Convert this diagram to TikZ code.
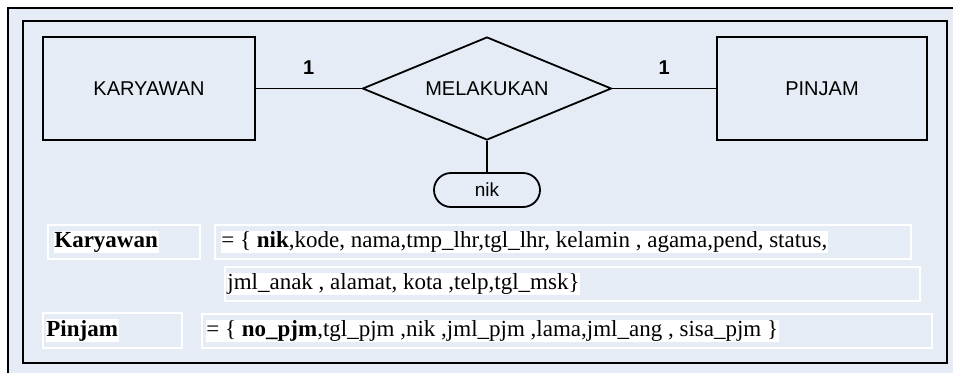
\documentclass[tikz,border=0pt]{standalone}
\usepackage{fontspec}
\setmainfont{Liberation Serif}
\newfontfamily\erfont{Liberation Sans}
\usetikzlibrary{shapes.geometric}

\definecolor{bgblue}{RGB}{229,236,246}

\tikzset{
  entity/.style={draw,line width=.9pt,minimum width=106pt,minimum height=51.5pt,
    font=\erfont\fontsize{10}{12}\selectfont},
  relship/.style={draw,diamond,line width=.9pt,inner sep=0pt,aspect=2.4,
    minimum width=124.5pt,minimum height=51.5pt,font=\erfont\fontsize{10}{12}\selectfont},
  attrib/.style={draw,line width=.9pt,rounded corners=8.5pt,minimum width=53pt,
    minimum height=17pt,font=\erfont\fontsize{9.5}{11}\selectfont},
  card/.style={font=\erfont\bfseries\fontsize{10}{12}\selectfont,above=3pt},
  rowbox/.style={draw=white,line width=1pt,fill=bgblue,minimum height=17pt},
  rowtxt/.style={anchor=west,fill=white,inner sep=.4pt,font=\fontsize{11.5}{13}\selectfont}
}

\begin{document}
\begin{tikzpicture}[x=.5pt,y=-.5pt,line width=.2mm]
  \useasboundingbox (0,0) rectangle (953,372);

  % frames
  \draw[line width=1pt,fill=bgblue] (8,8) rectangle (975,395);
  \draw[line width=1.3pt] (23,21) rectangle (947,363);

  % diagram
  \node[entity] (K) at (149,88.5) {KARYAWAN};
  \node[relship] (M) at (487,88.5) {MELAKUKAN};
  \node[entity,minimum width=105pt] (P) at (822,88.5) {PINJAM};
  \node[attrib] (N) at (487,190) {nik};

  \draw[line width=.9pt] (K) -- (M) node[card,midway] (c1) {1};
  \draw[line width=.9pt] (M) -- (P) node[card,midway] (c2) {1};
  \draw[line width=.9pt] (M.south) -- (N.north);

  % relasi tabel
  \node[rowbox,minimum width=76pt] (KL) at (124,242) {};
  \node[rowbox,minimum width=348pt] (KA) at (563,242) {};
  \node[rowbox,minimum width=347.5pt] (KB) at (572.5,284) {};
  \node[rowbox,minimum width=69.5pt,minimum height=17.5pt] (PL) at (112.5,330.5) {};
  \node[rowbox,minimum width=365pt] (PA) at (567,331) {};

  \node[rowtxt] (tK) at (53,242) {\textbf{Karyawan}};
  \node[rowtxt] (tKA) at (220,242) {= \{ \textbf{nik},kode, nama,tmp\_lhr,tgl\_lhr, kelamin , agama,pend, status,};
  \node[rowtxt] (tKB) at (226,284) {jml\_anak , alamat, kota ,telp,tgl\_msk\}};
  \node[rowtxt] (tP) at (45,330.5) {\textbf{Pinjam}};
  \node[rowtxt] (tPA) at (205,331) {= \{ \textbf{no\_pjm},tgl\_pjm ,nik ,jml\_pjm ,lama,jml\_ang , sisa\_pjm \}};
\end{tikzpicture}
\end{document}
